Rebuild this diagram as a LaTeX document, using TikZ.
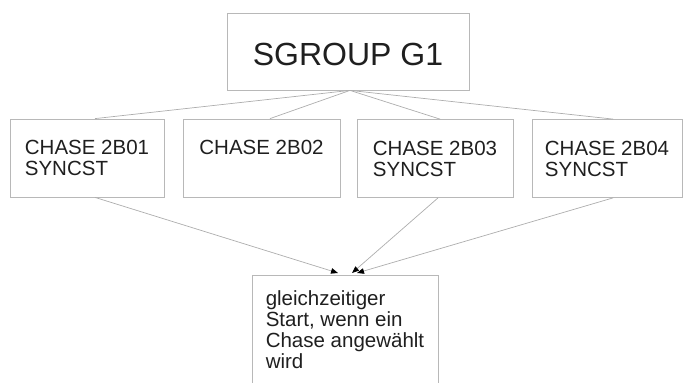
\documentclass[tikz,border=0pt]{standalone}
\usepackage{fontspec}
\setmainfont{Liberation Sans}
\usetikzlibrary{arrows.meta,calc}
\begin{document}
\begin{tikzpicture}[x=1pt,y=-1pt,
 box/.style={draw=black!28, line width=0.8pt, align=left, text=black!88, font=\fontsize{20.5}{21}\selectfont, inner xsep=0pt, inner ysep=0pt, minimum height=78pt},
 link/.style={draw=black!32, line width=0.7pt},
 arr/.style={link, -{Triangle[length=7pt,width=5.5pt,color=black]}}]
\useasboundingbox (0,0) rectangle (683,383);
\node[box, font=\fontsize{32}{36}\selectfont, minimum width=242pt, minimum height=77pt, text height=27pt, text depth=0pt] (top) at (348,51.5) {SGROUP G1};
\node[box, minimum width=154pt] (b1) at (87,158) {CHASE 2B01\\SYNCST};
\node[box, minimum width=157pt] (b2) at (261.5,158) {CHASE 2B02\\\mbox{}};
\node[box, minimum width=156pt] (b3) at (435,158.5) {CHASE 2B03\\SYNCST};
\node[box, minimum width=150pt] (b4) at (607,158.5) {CHASE 2B04\\SYNCST};
\node[box, anchor=north, minimum width=186pt, inner ysep=15pt] (res) at (345,275) {gleichzeitiger\\Start, wenn ein\\Chase angewählt\\wird\\\mbox{}};
\coordinate (hub) at ($(top.south)+(2,0)$);
\draw[link] (hub) -- ([xshift=8pt]b1.north);
\draw[link] (hub) -- ([xshift=8.5pt]b2.north);
\draw[link] (hub) -- ([xshift=5pt]b3.north);
\draw[link] (hub) -- ([xshift=6pt]b4.north);
\draw[arr] ([xshift=8pt]b1.south) -- ([xshift=-7pt,yshift=2pt]res.north);
\draw[arr] ([xshift=3pt]b3.south) -- ([xshift=7pt,yshift=2pt]res.north);
\draw[arr] ([xshift=6pt]b4.south) -- ([xshift=12pt,yshift=2pt]res.north);
\end{tikzpicture}
\end{document}
